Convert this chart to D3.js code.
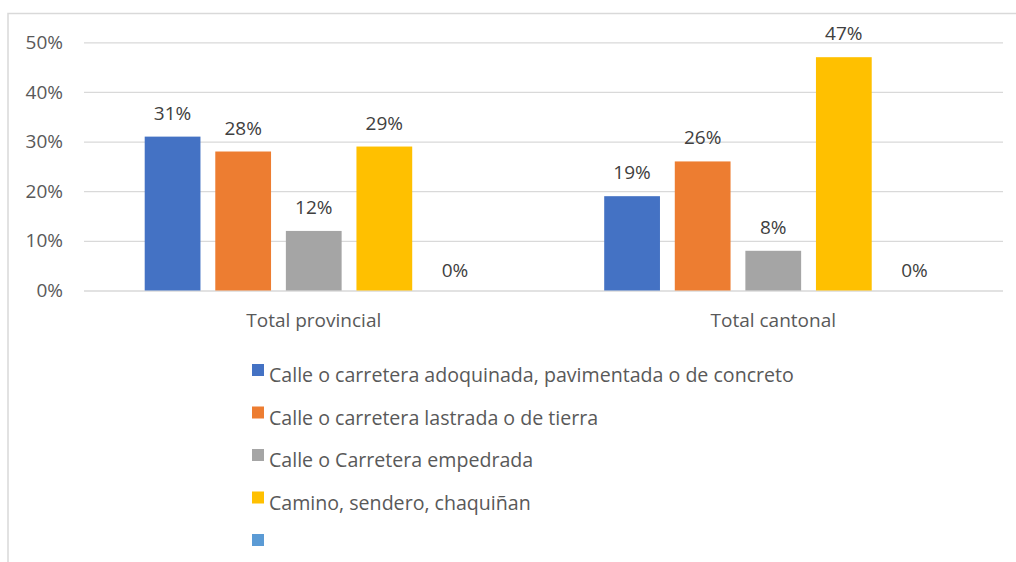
<!DOCTYPE html>
<html>
<head>
<meta charset="utf-8">
<script src="https://cdn.jsdelivr.net/npm/d3@7"></script>
<style>
  html, body { margin: 0; padding: 0; background: #fff; }
  svg { display: block; font-family: "Open Sans", sans-serif; }
</style>
</head>
<body>
<svg id="chart" width="1016" height="562"></svg>
<script>
// Road types (series) and the two area totals (categories)
const categories = ["Total provincial", "Total cantonal"];
const seriesNames = [
  "Calle o carretera adoquinada, pavimentada o de concreto",
  "Calle o carretera lastrada o de tierra",
  "Calle o Carretera empedrada",
  "Camino, sendero, chaquiñan",
  ""
];
const seriesColors = ["#4472C4", "#ED7D31", "#A5A5A5", "#FFC000", "#5B9BD5"];
// Share of each road type, one row per series: [provincial, cantonal]
const pavedValues   = [0.31, 0.19];
const dirtValues    = [0.28, 0.26];
const stoneValues   = [0.12, 0.08];
const trailValues   = [0.29, 0.47];
const otherValues   = [0.00, 0.00];
const yTicks = [0, 0.1, 0.2, 0.3, 0.4, 0.5];

const seriesValues = [pavedValues, dirtValues, stoneValues, trailValues, otherValues];

const svg = d3.select("#chart");
const fontSize = 19;
const legendFontSize = 19.6;
const axisColor = "#595959";
const labelColor = "#404040";
const gridColor = "#d9d9d9";

// Chart frame (left and top edges visible)
svg.append("path")
  .attr("d", "M8,562 V13.5 H1016")
  .attr("fill", "none")
  .attr("stroke", gridColor)
  .attr("stroke-width", 1.5);

const plot = { left: 84, right: 1003, top: 42.3, bottom: 290.5 };

const y = d3.scaleLinear().domain([0, 0.5]).range([plot.bottom, plot.top]);
const x0 = d3.scaleBand().domain(categories).range([plot.left, plot.right]);
const x1 = d3.scaleBand()
  .domain(d3.range(seriesNames.length))
  .range([0, x0.bandwidth()])
  .paddingInner(0.21)
  .paddingOuter(0.86);

const fmt = d3.format(".0%");

// Gridlines and y tick labels
const yAxis = d3.axisLeft(y)
  .tickValues(yTicks)
  .tickFormat(fmt)
  .tickSize(-(plot.right - plot.left))
  .tickPadding(21);

const gy = svg.append("g")
  .attr("transform", `translate(${plot.left},0)`)
  .call(yAxis);
gy.select(".domain").remove();
gy.selectAll(".tick line").attr("stroke", gridColor).attr("stroke-width", 1.3);
gy.selectAll(".tick text")
  .attr("fill", axisColor)
  .style("font-size", fontSize + "px")
  .style("font-family", "'Open Sans', sans-serif");

// Category axis labels
const xAxis = d3.axisBottom(x0).tickSize(0).tickPadding(0);
const gx = svg.append("g")
  .attr("transform", `translate(0,${plot.bottom})`)
  .call(xAxis);
gx.select(".domain").remove();
gx.selectAll(".tick text")
  .attr("fill", axisColor)
  .attr("dy", null)
  .attr("y", 36.5)
  .style("font-size", fontSize + "px")
  .style("font-family", "'Open Sans', sans-serif");

// Bars and value labels
const cells = [];
categories.forEach((c, ci) => {
  seriesValues.forEach((vals, si) => {
    cells.push({ category: c, series: si, value: vals[ci] });
  });
});

const bars = svg.append("g");
bars.selectAll("rect")
  .data(cells)
  .join("rect")
  .attr("x", d => x0(d.category) + x1(d.series))
  .attr("y", d => y(d.value))
  .attr("width", x1.bandwidth())
  .attr("height", d => y(0) - y(d.value))
  .attr("fill", d => seriesColors[d.series]);

bars.selectAll("text")
  .data(cells)
  .join("text")
  .attr("x", d => x0(d.category) + x1(d.series) + x1.bandwidth() / 2)
  .attr("y", d => y(d.value) - (d.value === 0 ? 14 : 17))
  .attr("text-anchor", "middle")
  .attr("fill", labelColor)
  .style("font-size", fontSize + "px")
  .text(d => fmt(d.value));

// Legend
const legend = svg.append("g").attr("transform", "translate(252,364)");
const rowH = 42.5;
const item = legend.selectAll("g")
  .data(seriesNames)
  .join("g")
  .attr("transform", (d, i) => `translate(0,${i * rowH})`);
item.append("rect")
  .attr("width", 12)
  .attr("height", 12)
  .attr("fill", (d, i) => seriesColors[i]);
item.append("text")
  .attr("x", 17)
  .attr("y", 18)
  .attr("fill", axisColor)
  .style("font-size", legendFontSize + "px")
  .text(d => d);
</script>
</body>
</html>
